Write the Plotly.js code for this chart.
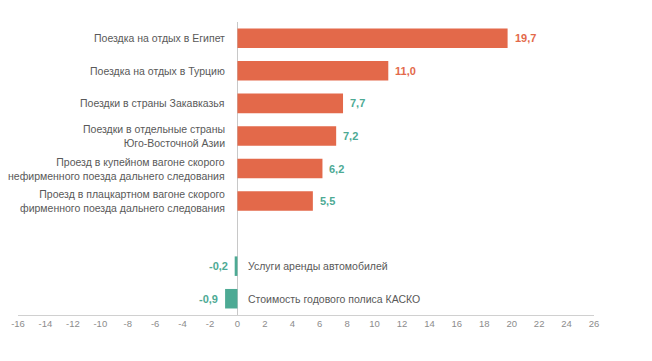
<!DOCTYPE html>
<html><head><meta charset="utf-8">
<script src="https://cdn.plot.ly/plotly-3.0.1.min.js"></script>
<style>html,body{margin:0;padding:0;background:#fff}#chart{width:652px;height:361px}</style>
</head><body><div id="chart"></div>
<script>
const categories = [
  "Поездка на отдых в Египет",
  "Поездка на отдых в Турцию",
  "Поездки в страны Закавказья",
  "Поездки в отдельные страны <br>Юго-Восточной Азии",
  "Проезд в купейном вагоне скорого <br>нефирменного поезда дальнего следования",
  "Проезд в плацкартном вагоне скорого <br>фирменного поезда дальнего следования",
  " ",
  "Услуги аренды автомобилей",
  "Стоимость годового полиса КАСКО"
];
const values = [19.7, 11.0, 7.7, 7.2, 6.2, 5.5, null, -0.2, -0.9];
const labelColorGroup = ["o","o","t","t","t","t",null,"t","t"];
const tickValues = [-16,-14,-12,-10,-8,-6,-4,-2,0,2,4,6,8,10,12,14,16,18,20,22,24,26];
const tickLabels = tickValues.map(v => String(v));

const ORANGE = "#E3694A", TEAL = "#4DAA94";
const barColors = values.map(v => (v !== null && v < 0) ? TEAL : ORANGE);

const annotations = [];
categories.forEach((c, i) => {
  const v = values[i];
  if (v === null) return;
  const neg = v < 0;
  annotations.push({
    x: 0, y: c, xref: "x", yref: "y", text: c.trim().replace(" <br>", "<br>"),
    showarrow: false, xanchor: neg ? "left" : "right", align: neg ? "left" : "right",
    xshift: neg ? 9 : -10,
    font: {family: "Liberation Sans, Arial, sans-serif", size: 10.5, color: "#595959"}
  });
  annotations.push({
    x: v, y: c, xref: "x", yref: "y",
    text: "<b>" + v.toFixed(1).replace(".", ",") + "</b>",
    showarrow: false, xanchor: neg ? "right" : "left",
    xshift: neg ? -5 : 5,
    font: {family: "Liberation Sans, Arial, sans-serif", size: 11,
           color: labelColorGroup[i] === "o" ? ORANGE : TEAL}
  });
});

const trace = {
  type: "bar", orientation: "h", x: values, y: categories,
  marker: {color: barColors, line: {width: 0}}, hoverinfo: "none"
};

const layout = {
  width: 652, height: 361,
  margin: {l: 18, r: 58, t: 22, b: 46},
  paper_bgcolor: "#fff", plot_bgcolor: "#fff",
  showlegend: false, bargap: 0.4,
  xaxis: {
    range: [-16, 26], tickvals: tickValues, ticktext: tickLabels,
    showgrid: false, zeroline: true, zerolinecolor: "#c8c8c8", zerolinewidth: 1,
    showline: true, linecolor: "#d0d0d0", linewidth: 1,
    ticks: "", tickfont: {family: "Liberation Sans, Arial, sans-serif", size: 9.5, color: "#8c8c8c"},
    fixedrange: true
  },
  yaxis: {
    type: "category", categoryorder: "array", categoryarray: categories,
    autorange: "reversed", showticklabels: false, showgrid: false,
    zeroline: false, showline: false, ticks: "", fixedrange: true
  },
  annotations: annotations
};
Plotly.newPlot("chart", [trace], layout, {displayModeBar: false, staticPlot: true});
</script></body></html>
